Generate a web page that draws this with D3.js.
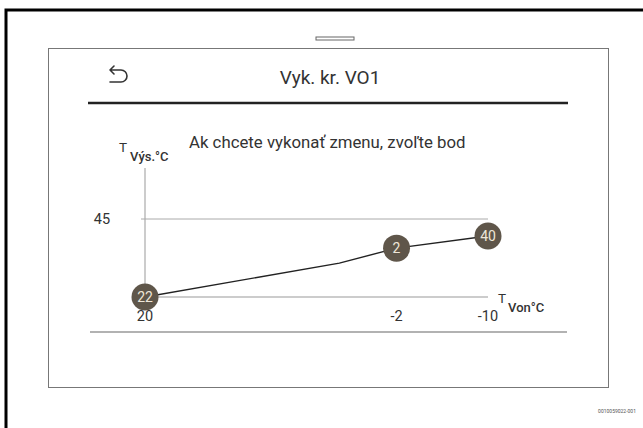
<!DOCTYPE html>
<html>
<head>
<meta charset="UTF-8">
<title>Vyk. kr. VO1</title>
<style>
    body { margin: 0; padding: 0; background: #fff; }
    svg { display: block; font-family: Roboto, "Liberation Sans", sans-serif; }
</style>
</head>
<body>
<svg width="643" height="428"></svg>
<script src="https://d3js.org/d3.v7.min.js"></script>
<script>
    // heating curve: outdoor temp -> flow temp
    var outdoor = [20, 3, -2, -10];
    var flow = [22, 32, 36.4, 40];
    var pointLabels = ["22", "", "2", "40"];
    var xTicks = [20, -2, -10];
    var yTicks = [45];

    var svg = d3.select("svg");

    // outer frame (cropped: only top and left edges)
    svg.append("path")
        .attr("d", "M6,428 L6,10 L643,10")
        .attr("fill", "none")
        .attr("stroke", "#000")
        .attr("stroke-width", 3);

    // little tab on top of the screen
    svg.append("rect")
        .attr("x", 316).attr("y", 37).attr("width", 38).attr("height", 3)
        .attr("fill", "#fff").attr("stroke", "#666").attr("stroke-width", 1);

    // screen panel
    svg.append("rect")
        .attr("x", 48.5).attr("y", 48.5).attr("width", 560).attr("height", 339)
        .attr("fill", "#fff").attr("stroke", "#777").attr("stroke-width", 1);

    // header
    svg.append("path")
        .attr("d", "M110,70 L121,70 A6,6 0 0 1 121,82 L110,82 M114,66 L110,70 L114,74")
        .attr("fill", "none").attr("stroke", "#333").attr("stroke-width", 1.6)
        .attr("stroke-linecap", "round").attr("stroke-linejoin", "round");

    svg.append("text")
        .attr("x", 330).attr("y", 84)
        .attr("text-anchor", "middle")
        .attr("font-size", 19).attr("fill", "#333")
        .text("Vyk. kr. VO1");

    svg.append("line")
        .attr("x1", 88).attr("x2", 568).attr("y1", 103).attr("y2", 103)
        .attr("stroke", "#222").attr("stroke-width", 2.5);

    svg.append("text")
        .attr("x", 189).attr("y", 148)
        .attr("font-size", 16.8).attr("fill", "#333")
        .text("Ak chcete vykonať zmenu, zvoľte bod");

    // scales
    var x = d3.scaleLinear().domain([20, -10]).range([145, 488]);
    var y = d3.scaleLinear().domain([22, 45]).range([297, 219]);

    var g = svg.append("g");

    // y axis line
    g.append("line")
        .attr("x1", x(20)).attr("x2", x(20))
        .attr("y1", 168).attr("y2", y(22))
        .attr("stroke", "#999").attr("stroke-width", 1);

    // y grid + labels
    g.selectAll(".ygrid")
        .data(yTicks)
        .enter().append("line")
        .attr("class", "ygrid")
        .attr("x1", x(20) - 4).attr("x2", x(-10))
        .attr("y1", function (d) { return y(d); })
        .attr("y2", function (d) { return y(d); })
        .attr("stroke", "#aaa").attr("stroke-width", 1);

    g.selectAll(".ylab")
        .data(yTicks)
        .enter().append("text")
        .attr("class", "ylab")
        .attr("x", 102).attr("y", function (d) { return y(d) + 5; })
        .attr("text-anchor", "middle")
        .attr("font-size", 14.5).attr("fill", "#333")
        .text(function (d) { return d; });

    // x axis line
    g.append("line")
        .attr("x1", x(20)).attr("x2", x(-10))
        .attr("y1", y(22)).attr("y2", y(22))
        .attr("stroke", "#999").attr("stroke-width", 1);

    g.selectAll(".xlab")
        .data(xTicks)
        .enter().append("text")
        .attr("class", "xlab")
        .attr("x", function (d) { return x(d); })
        .attr("y", 321)
        .attr("text-anchor", "middle")
        .attr("font-size", 14.5).attr("fill", "#333")
        .text(function (d) { return d < 0 ? "-" + Math.abs(d) : d; });

    // axis titles
    var yt = g.append("text").attr("x", 119).attr("y", 152).attr("fill", "#333").attr("font-size", 13.5);
    yt.append("tspan").text("T");
    yt.append("tspan").attr("dx", 3).attr("dy", 9).attr("font-size", 13).attr("font-weight", 500).text("Výs.°C");

    var xt = g.append("text").attr("x", 498).attr("y", 303).attr("fill", "#333").attr("font-size", 13.5);
    xt.append("tspan").text("T");
    xt.append("tspan").attr("dx", 2).attr("dy", 9).attr("font-size", 13).attr("font-weight", 500).text("Von°C");

    // bottom separator
    svg.append("line")
        .attr("x1", 90).attr("x2", 567).attr("y1", 332).attr("y2", 332)
        .attr("stroke", "#999").attr("stroke-width", 1.5);

    // curve
    var pts = outdoor.map(function (d, i) { return { t: d, v: flow[i], label: pointLabels[i] }; });

    g.append("path")
        .datum(pts)
        .attr("fill", "none")
        .attr("stroke", "#222")
        .attr("stroke-width", 1.4)
        .attr("d", d3.line()
            .x(function (d) { return x(d.t); })
            .y(function (d) { return y(d.v); }));

    var node = g.selectAll(".pt")
        .data(pts.filter(function (d) { return d.label !== ""; }))
        .enter().append("g")
        .attr("class", "pt")
        .attr("transform", function (d) { return "translate(" + x(d.t) + "," + y(d.v) + ")"; });

    node.append("circle")
        .attr("r", 13.5)
        .attr("fill", "#5f564a");

    node.append("text")
        .attr("y", 5)
        .attr("text-anchor", "middle")
        .attr("font-size", 14)
        .attr("fill", "#eee6d8")
        .text(function (d) { return d.label; });

    // figure reference
    svg.append("text")
        .attr("x", 636).attr("y", 413)
        .attr("text-anchor", "end")
        .attr("font-size", 5).attr("fill", "#555")
        .text("0010059022-001");
</script>
</body>
</html>
